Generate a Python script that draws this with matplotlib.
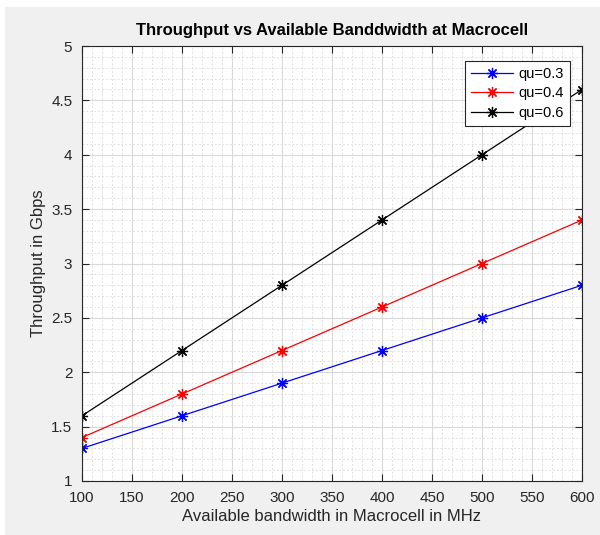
import matplotlib.pyplot as plt
from matplotlib.patches import Rectangle
from matplotlib.ticker import MultipleLocator

plt.rcParams['font.family'] = ['Liberation Sans', 'DejaVu Sans']

bandwidth = [100, 200, 300, 400, 500, 600]
tp_03 = [1.3, 1.6, 1.9, 2.2, 2.5, 2.8]
tp_04 = [1.4, 1.8, 2.2, 2.6, 3.0, 3.4]
tp_06 = [1.6, 2.2, 2.8, 3.4, 4.0, 4.6]

fig = plt.figure(figsize=(6, 5.35), dpi=100)
fig.patch.set_facecolor('#f0f0f0')
# white strips at top and left edge of the screenshot
fig.add_artist(Rectangle((0, 1 - 7 / 535), 1, 7 / 535, transform=fig.transFigure,
                         facecolor='white', edgecolor='none', zorder=-1))
fig.add_artist(Rectangle((0, 0), 5 / 600, 1, transform=fig.transFigure,
                         facecolor='white', edgecolor='none', zorder=-1))

ax = fig.add_axes([82 / 600, 1 - 481 / 535, 500 / 600, 435 / 535])
ax.set_facecolor('white')

star = (8, 2, 0)  # MATLAB-like asterisk
ax.plot(bandwidth, tp_03, '-', marker=star, color='blue', lw=0.9, ms=8, mew=0.9, label='qu=0.3')
ax.plot(bandwidth, tp_04, '-', marker=star, color='red', lw=0.9, ms=8, mew=0.9, label='qu=0.4')
ax.plot(bandwidth, tp_06, '-', marker=star, color='black', lw=0.9, ms=8, mew=0.9, label='qu=0.6')

ax.set_xlim(100, 600)
ax.set_ylim(1, 5)
ax.xaxis.set_major_locator(MultipleLocator(50))
ax.xaxis.set_minor_locator(MultipleLocator(10))
ax.yaxis.set_major_locator(MultipleLocator(0.5))
ax.yaxis.set_minor_locator(MultipleLocator(0.1))
ax.set_yticklabels([f'{v:g}' for v in ax.get_yticks()])

ax.grid(True, which='major', color='#d9d9d9', lw=0.8, ls='-')
ax.grid(True, which='minor', color='#e0e0e0', lw=0.7, ls=(0, (2, 2)))
ax.set_axisbelow(True)

ax.tick_params(which='major', direction='in', length=5, top=True, right=True,
               labelsize=11, labelcolor='#262626', color='#262626', width=0.8, pad=7)
ax.tick_params(which='minor', length=0)
for s in ax.spines.values():
    s.set_color('#262626')
    s.set_linewidth(0.8)

ax.set_xlabel('Available bandwidth in Macrocell in MHz', fontsize=12, color='#262626', labelpad=3)
ax.set_ylabel('Throughput in Gbps', fontsize=12, color='#262626', labelpad=4)
ax.set_title('Throughput vs Available Banddwidth at Macrocell', fontsize=12,
             fontweight='bold', pad=8)

leg = ax.legend(loc='upper right', bbox_to_anchor=(0.976, 0.966), borderaxespad=0,
                fontsize=10.5, fancybox=False, framealpha=1, edgecolor='#262626',
                handlelength=2.9, borderpad=0.4, labelspacing=0.4, handletextpad=0.4)
leg.get_frame().set_linewidth(0.8)

fig.savefig('out.png', dpi=100, facecolor=fig.get_facecolor())
